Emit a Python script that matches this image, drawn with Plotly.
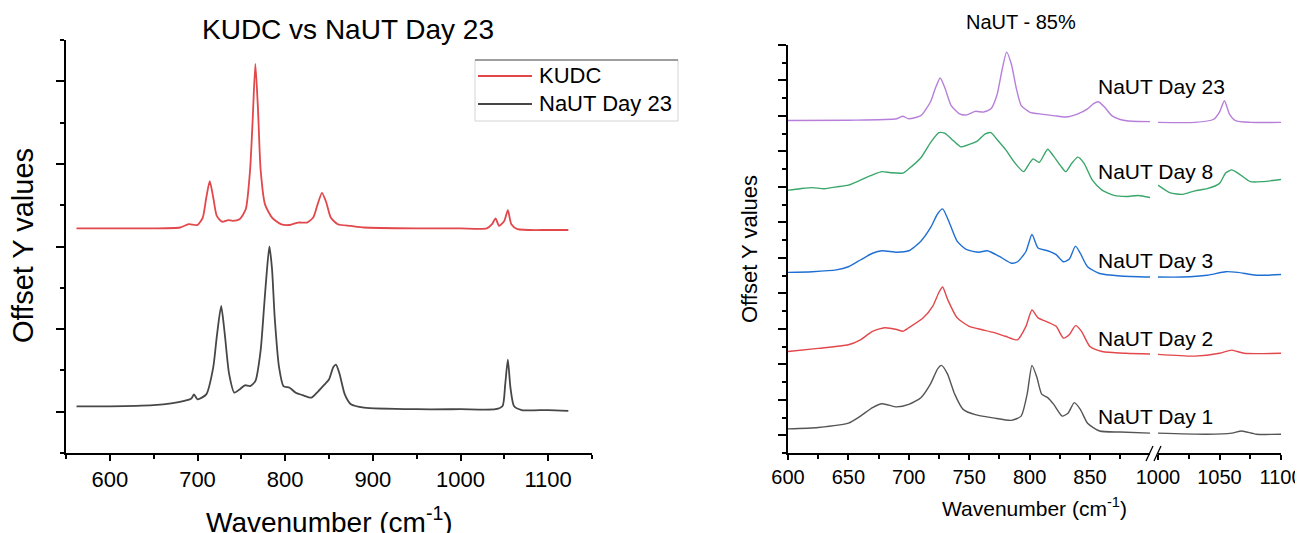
import plotly.graph_objects as go

# ---------------- Left chart data ----------------
kudc_x = [562, 600, 650, 680, 690, 700, 706, 710, 714, 718, 722, 728, 735, 740, 748, 755, 760, 763, 766,
          769, 772, 777, 785, 795, 805, 815, 825, 832, 837, 842, 847, 852, 860, 875, 890, 950, 1000, 1030,
          1036, 1040, 1044, 1050, 1054, 1058, 1065, 1100, 1123]
kudc_y = [2.22, 2.22, 2.22, 2.23, 2.27, 2.26, 2.35, 2.59, 2.79, 2.59, 2.37, 2.30, 2.32, 2.31, 2.33, 2.45, 2.93,
          3.55, 4.21, 3.66, 2.93, 2.51, 2.35, 2.27, 2.26, 2.29, 2.29, 2.35, 2.51, 2.65, 2.53, 2.35, 2.27, 2.25,
          2.23, 2.22, 2.22, 2.22, 2.27, 2.34, 2.25, 2.31, 2.44, 2.27, 2.21, 2.20, 2.20]

naut23_x = [562, 600, 650, 670, 685, 693, 696, 700, 710, 718, 722, 727, 731, 736, 742, 748, 754, 760, 766,
            772, 776, 779, 782, 785, 788, 793, 798, 805, 812, 820, 830, 838, 845, 850, 855, 858, 862, 868,
            875, 890, 950, 1000, 1040, 1048, 1051, 1054, 1057, 1061, 1070, 1100, 1123]
naut23_y = [0.065, 0.065, 0.08, 0.10, 0.13, 0.16, 0.21, 0.15, 0.21, 0.54, 0.91, 1.28, 0.95, 0.46, 0.23, 0.27,
            0.32, 0.31, 0.37, 0.74, 1.28, 1.69, 2.00, 1.73, 1.15, 0.54, 0.31, 0.29, 0.23, 0.20, 0.17, 0.25,
            0.33, 0.39, 0.54, 0.57, 0.46, 0.21, 0.09, 0.05, 0.03, 0.03, 0.03, 0.07, 0.33, 0.63, 0.29, 0.07,
            0.02, 0.02, 0.01]

# ---------------- Right chart data (NaUT - 85%) ----------------
d23_x = [600, 650, 690, 695, 700, 710, 718, 722, 726, 730, 735, 742, 748, 755, 762, 768, 773, 777, 781, 785,
         789, 793, 800, 810, 820, 830, 840, 848, 853, 857, 862, 868, 875, 885, 900,
         1000, 1030, 1045, 1050, 1054, 1058, 1063, 1075, 1100]
d23_y = [8.87, 8.88, 8.92, 8.99, 8.92, 9.01, 9.40, 9.78, 10.07, 9.78, 9.30, 9.06, 9.03, 9.13, 9.11, 9.20, 9.59,
         10.26, 10.80, 10.45, 9.78, 9.30, 9.11, 9.05, 9.01, 8.97, 9.06, 9.20, 9.35, 9.40, 9.25, 9.01, 8.90,
         8.85, 8.84,
         8.82, 8.82, 8.90, 9.11, 9.43, 9.06, 8.87, 8.82, 8.82]

d8_x = [600, 610, 620, 630, 640, 650, 660, 670, 678, 685, 695, 700, 710, 718, 725, 730, 737, 743, 750, 757,
        763, 768, 773, 780, 788, 795, 800, 803, 808, 815, 820, 826, 830, 835, 840, 845, 852, 860, 870, 880,
        890, 900,
        1000, 1010, 1020, 1030, 1040, 1050, 1055, 1060, 1065, 1075, 1085, 1100]
d8_y = [6.91, 6.95, 6.98, 6.95, 7.00, 7.05, 7.19, 7.34, 7.43, 7.40, 7.39, 7.51, 7.82, 8.25, 8.53, 8.51, 8.30,
        8.13, 8.20, 8.30, 8.49, 8.53, 8.34, 8.06, 7.67, 7.43, 7.67, 7.79, 7.69, 8.06, 7.86, 7.58, 7.43, 7.67,
        7.84, 7.67, 7.19, 6.91, 6.76, 6.73, 6.76, 6.70,
        7.05, 6.83, 6.79, 6.89, 6.95, 7.10, 7.39, 7.48, 7.39, 7.15, 7.15, 7.21]

d3_x = [600, 620, 640, 650, 660, 670, 678, 690, 700, 710, 718, 724, 728, 733, 740, 748, 758, 765, 775, 785,
        790, 797, 802, 807, 815, 822, 828, 833, 838, 842, 848, 858, 875, 900,
        1000, 1020, 1040, 1055, 1065, 1080, 1100]
d3_y = [4.59, 4.61, 4.66, 4.75, 4.94, 5.13, 5.20, 5.16, 5.20, 5.47, 5.85, 6.25, 6.38, 6.04, 5.47, 5.23, 5.16,
        5.20, 5.04, 4.85, 4.89, 5.18, 5.66, 5.28, 5.20, 5.09, 4.89, 4.97, 5.33, 5.13, 4.75, 4.56, 4.49, 4.46,
        4.46, 4.46, 4.51, 4.61, 4.59, 4.51, 4.53]

d2_x = [600, 625, 650, 660, 670, 680, 690, 695, 700, 712, 720, 725, 728, 732, 740, 750, 760, 770, 780, 790,
        797, 802, 807, 815, 822, 828, 833, 838, 843, 850, 860, 880, 900,
        1000, 1030, 1050, 1060, 1070, 1100]
d2_y = [2.36, 2.45, 2.55, 2.69, 2.93, 3.03, 2.98, 2.93, 3.03, 3.31, 3.65, 4.03, 4.18, 3.84, 3.31, 3.07, 2.98,
        2.90, 2.79, 2.69, 3.07, 3.53, 3.31, 3.19, 3.07, 2.74, 2.84, 3.09, 2.93, 2.50, 2.36, 2.31, 2.29,
        2.28, 2.23, 2.31, 2.40, 2.31, 2.31]

d1_x = [600, 625, 650, 660, 670, 678, 690, 700, 710, 718, 724, 727, 732, 738, 745, 755, 770, 785, 793, 798,
        802, 806, 810, 815, 820, 827, 832, 837, 842, 848, 858, 875, 900,
        1000, 1040, 1060, 1068, 1080, 1100]
d1_y = [0.18, 0.22, 0.34, 0.54, 0.78, 0.89, 0.80, 0.87, 1.06, 1.45, 1.88, 1.97, 1.73, 1.16, 0.73, 0.58, 0.49,
        0.42, 0.54, 1.16, 1.97, 1.64, 1.16, 1.06, 0.87, 0.54, 0.63, 0.92, 0.73, 0.34, 0.12, 0.09, 0.06,
        0.06, 0.03, 0.06, 0.12, 0.03, 0.03]

left_series = [
    ("KUDC", kudc_x, kudc_y, "#e2474b"),
    ("NaUT Day 23", naut23_x, naut23_y, "#474747"),
]
right_series = [
    ("NaUT Day 23", d23_x, d23_y, "#b77fda"),
    ("NaUT Day 8", d8_x, d8_y, "#3aa66a"),
    ("NaUT Day 3", d3_x, d3_y, "#1f6fd2"),
    ("NaUT Day 2", d2_x, d2_y, "#e2474b"),
    ("NaUT Day 1", d1_x, d1_y, "#555555"),
]

# page body has an 8px margin -> figure is placed at (8, 8)
OFF = 8
W, H = 1303 - OFF, 533 - OFF
FONT = "Arial, Liberation Sans, sans-serif"


def px(v):
    return (v - OFF) / W


def py(v):
    return 1 - (v - OFF) / H


fig = go.Figure()

for name, xs, ys, col in left_series:
    fig.add_trace(go.Scatter(x=xs, y=ys, mode="lines", name=name, showlegend=False,
                             line=dict(color=col, width=1.8, shape="spline", smoothing=0.6),
                             xaxis="x", yaxis="y"))

for name, xs, ys, col in right_series:
    lx = [a for a in xs if a <= 900]
    ly = [b for a, b in zip(xs, ys) if a <= 900]
    rx = [a for a in xs if a >= 1000]
    ry = [b for a, b in zip(xs, ys) if a >= 1000]
    fig.add_trace(go.Scatter(x=lx, y=ly, mode="lines", name=name, showlegend=False,
                             line=dict(color=col, width=1.4, shape="spline", smoothing=0.6),
                             xaxis="x2", yaxis="y2"))
    fig.add_trace(go.Scatter(x=rx, y=ry, mode="lines", name=name, showlegend=False,
                             line=dict(color=col, width=1.4, shape="spline", smoothing=0.6),
                             xaxis="x3", yaxis="y2"))

axis_common = dict(showline=True, linecolor="black", linewidth=1.5, showgrid=False, zeroline=False,
                   ticks="outside", tickcolor="black", tickwidth=1.5, mirror=False, automargin=False)
minor_common = dict(ticks="outside", tickcolor="black", tickwidth=1.5, tick0=0)

fig.update_layout(
    template="none",
    width=W, height=H,
    margin=dict(l=0, r=0, t=0, b=0, autoexpand=False),
    paper_bgcolor="white", plot_bgcolor="white",
    font=dict(family=FONT, color="black"),
    xaxis=dict(domain=[px(66), px(592)], range=[550, 1150], anchor="y", dtick=100, tick0=0,
               ticklen=6, tickfont=dict(size=22),
               minor=dict(dtick=50, ticklen=4, **minor_common), **axis_common),
    yaxis=dict(domain=[py(453), py(40)], range=[-0.5, 4.5], anchor="x", dtick=1, tick0=0,
               ticklen=8, showticklabels=False,
               minor=dict(dtick=0.5, ticklen=4, **minor_common), **axis_common),
    xaxis2=dict(domain=[px(788), px(1150)], range=[600, 899.7], anchor="y2", dtick=50, tick0=0,
                ticklen=5, tickfont=dict(size=20),
                minor=dict(dtick=25, ticklen=4, **minor_common), **axis_common),
    xaxis3=dict(domain=[px(1158), px(1281)], range=[1000, 1100], anchor="y2", dtick=50, tick0=0,
                ticklen=5, tickfont=dict(size=20),
                minor=dict(dtick=25, ticklen=4, **minor_common), **axis_common),
    yaxis2=dict(domain=[py(453), py(45)], range=[-0.5, 11], anchor="x2", dtick=1, tick0=0,
                ticklen=8, showticklabels=False,
                minor=dict(dtick=0.5, ticklen=4, **minor_common), **axis_common),
    showlegend=False,
)

annotations = [
    dict(text="KUDC vs NaUT Day 23", x=px(348), y=py(30), font=dict(size=28)),
    dict(text="Offset Y values", x=px(23), y=py(246), textangle=-90, font=dict(size=29)),
    dict(text="Wavenumber (cm<sup>-1</sup>)", x=px(329), y=py(520), font=dict(size=28)),
    dict(text="NaUT - 85%", x=px(1021), y=py(22), font=dict(size=20)),
    dict(text="Offset Y values", x=px(749), y=py(249), textangle=-90, font=dict(size=22)),
    dict(text="Wavenumber (cm<sup>-1</sup>)", x=px(1034), y=py(507), font=dict(size=21)),
]
label_y = [87, 171, 260, 338, 416]
for (name, _, _, _), ly_ in zip(right_series, label_y):
    annotations.append(dict(text=name, x=px(1096), y=py(ly_), xanchor="left", font=dict(size=21)))

# legend of the left chart (box, line samples, labels)
leg_box = dict(x0=475, x1=678, y0=60, y1=121)
leg_rows = [76, 104]
shapes = [
    dict(type="rect", xref="paper", yref="paper", x0=px(leg_box["x0"]), x1=px(leg_box["x1"]),
         y0=py(leg_box["y1"]), y1=py(leg_box["y0"]), fillcolor="white",
         line=dict(color="#d4d4d4", width=1), layer="above"),
    dict(type="line", xref="paper", yref="paper", x0=px(leg_box["x0"]), x1=px(leg_box["x1"]),
         y0=py(leg_box["y0"]), y1=py(leg_box["y0"]), line=dict(color="#555555", width=1.2)),
]
for (name, _, _, col), ry_ in zip(left_series, leg_rows):
    shapes.append(dict(type="line", xref="paper", yref="paper", x0=px(478), x1=px(532),
                       y0=py(ry_), y1=py(ry_), line=dict(color=col, width=1.8)))
    annotations.append(dict(text=name, x=px(537), y=py(ry_), xanchor="left", font=dict(size=22)))

# axis-break marks "//"
for x0 in (1146, 1154):
    shapes.append(dict(type="line", xref="paper", yref="paper",
                       x0=px(x0), y0=py(461), x1=px(x0 + 7), y1=py(446),
                       line=dict(color="black", width=1.3)))

for a in annotations:
    a.setdefault("xanchor", "center")
    a.update(xref="paper", yref="paper", showarrow=False, yanchor="middle")
    a["font"]["family"] = FONT
    a["font"]["color"] = "black"
fig.update_layout(annotations=annotations, shapes=shapes)

fig.write_html("out.html")
